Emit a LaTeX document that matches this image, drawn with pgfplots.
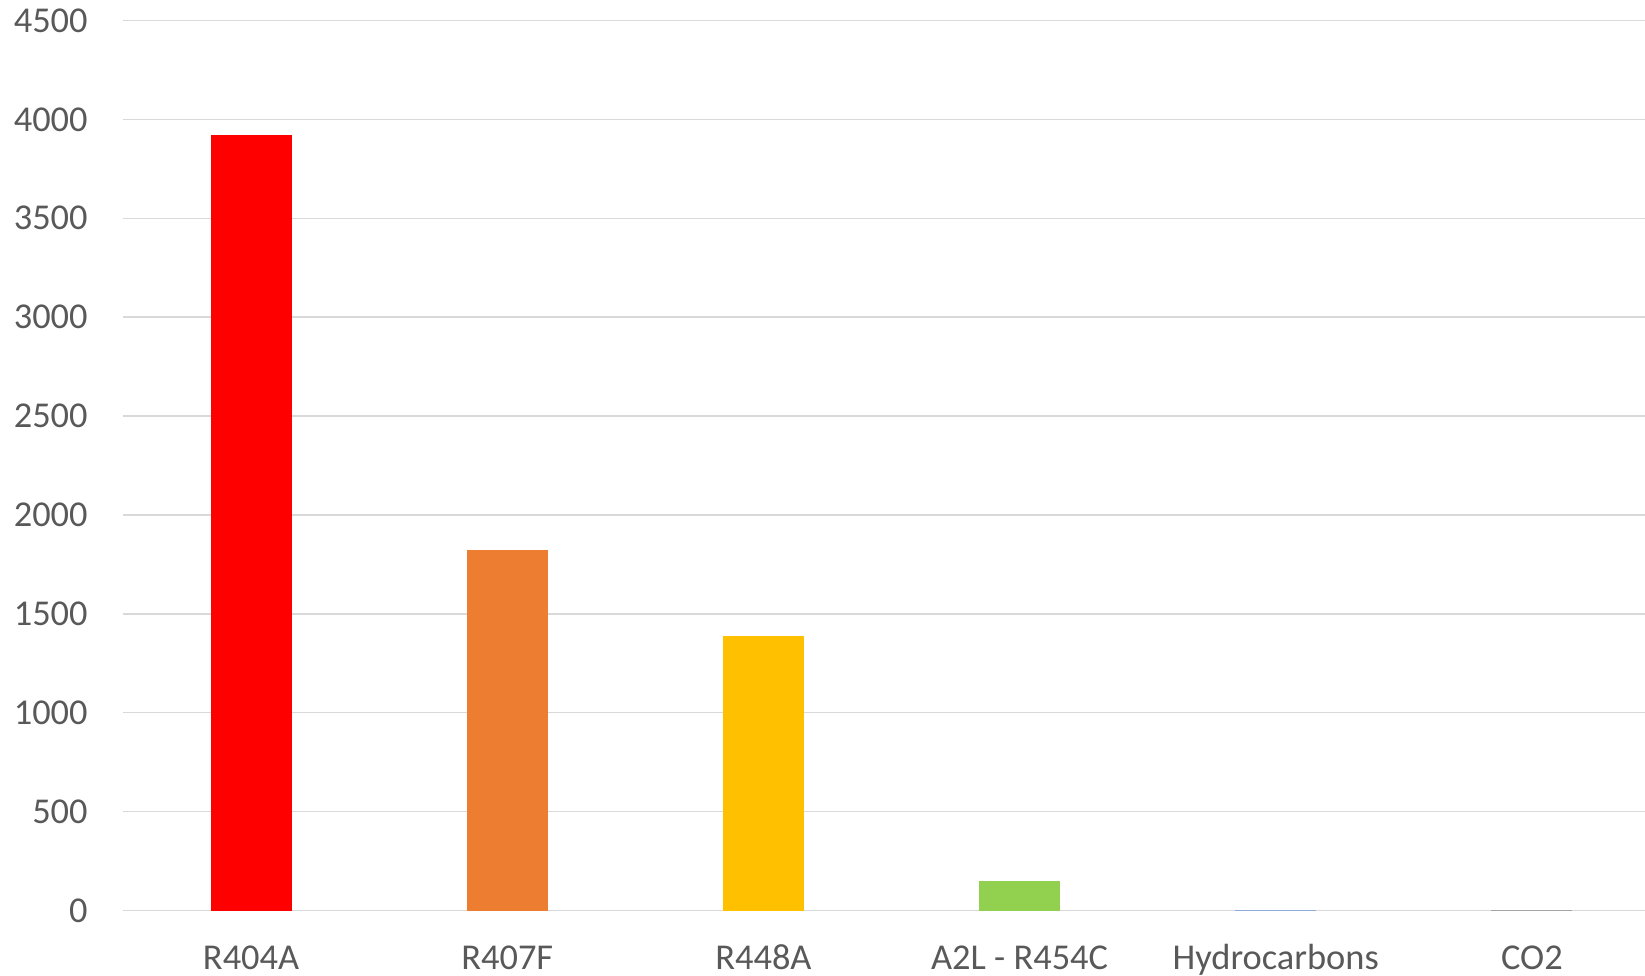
\documentclass[border=0pt]{standalone}
\usepackage{pgfplots}
\pgfplotsset{compat=1.18}
\usepackage{fontspec}
\setmainfont{Carlito}
\definecolor{txt}{HTML}{595959}
\definecolor{gridc}{HTML}{D9D9D9}
\definecolor{cRed}{HTML}{FF0000}
\definecolor{cOrange}{HTML}{ED7D31}
\definecolor{cYellow}{HTML}{FFC000}
\definecolor{cGreen}{HTML}{92D050}
\definecolor{cBlue}{HTML}{8FAADC}
\definecolor{cCO}{HTML}{A5A5A5}
\begin{document}
\begin{tikzpicture}
\path[use as bounding box] (0,0) rectangle (822.5bp,488bp);
\clip (0,0) rectangle (822.5bp,488bp);
\begin{axis}[
  at={(61.5bp,32.75bp)}, anchor=south west,
  scale only axis, width=768.5bp, height=445bp,
  xmin=-0.5, xmax=5.5, ymin=0, ymax=4500,
  ybar, bar width=40.5bp, bar shift=0pt,
  axis y line*=left, axis x line*=bottom,
  y axis line style={draw=none},
  x axis line style={draw=gridc, line width=0.75bp, -},
  ymajorgrids, grid style={draw=gridc, line width=0.75bp},
  ytick={0,500,...,4500},
  xtick={0,1,2,3,4,5},
  xticklabels={R404A,R407F,R448A,A2L - R454C,Hydrocarbons,CO2},
  major tick length=0pt,
  tick label style={font=\fontsize{18.2bp}{20bp}\selectfont, text=txt},
  /pgf/number format/assume math mode=true,
  /pgf/number format/1000 sep={},
  yticklabel style={anchor=east, inner sep=0pt, xshift=-17.5bp},
  xticklabel style={anchor=base, inner sep=0pt, text depth=0pt, yshift=-29.5bp},
  clip=false,
]
\addplot[fill=cRed, draw=none] coordinates {(0,3922)};
\addplot[fill=cOrange, draw=none] coordinates {(1,1825)};
\addplot[fill=cYellow, draw=none] coordinates {(2,1387)};
\addplot[fill=cGreen, draw=none] coordinates {(3,148)};
\addplot[fill=cBlue, draw=none] coordinates {(4,3)};
\addplot[fill=cCO, draw=none] coordinates {(5,1)};
\end{axis}
\end{tikzpicture}
\end{document}
